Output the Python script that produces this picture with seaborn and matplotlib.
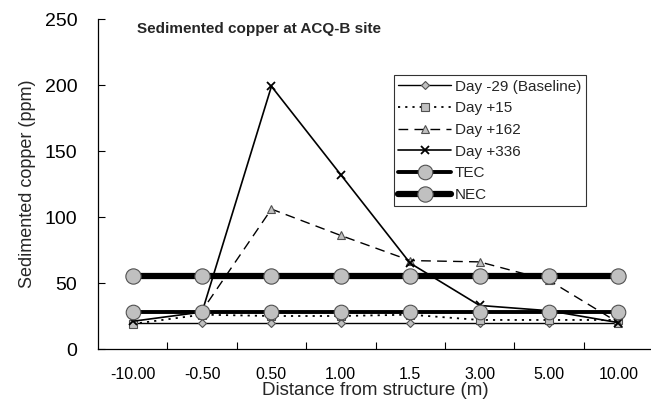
import numpy as np
import pandas as pd
import matplotlib
matplotlib.use("Agg")
import matplotlib.pyplot as plt
import seaborn as sns

# Sampling stations (distance from structure, m) and copper levels (ppm)
distances = ["-10.00", "-0.50", "0.50", "1.00", "1.5", "3.00", "5.00", "10.00"]
day_minus29 = [20, 20, 20, 20, 20, 20, 20, 20]
day_plus15 = [19, 26, 25, 25, 26, 22, 22, 22]
day_plus162 = [28, 29, 106, 86, 67, 66, 52, 20]
day_plus336 = [21, 28, 199, 132, 65, 33, 29, 20]
tec = [28, 28, 28, 28, 28, 28, 28, 28]
nec = [55, 55, 55, 55, 55, 55, 55, 55]

sns.set_theme(style="white")
plt.rcParams["font.family"] = ["Liberation Sans", "DejaVu Sans"]

pos = np.arange(len(distances))
df = pd.DataFrame({
    "pos": pos,
    "Day -29 (Baseline)": day_minus29,
    "Day +15": day_plus15,
    "Day +162": day_plus162,
    "Day +336": day_plus336,
    "TEC": tec,
    "NEC": nec,
})

fig = plt.figure(figsize=(6.51, 4.05), dpi=100)
ax = fig.add_axes([98 / 651, 1 - 349 / 405, 555 / 651, 330 / 405])

grey = "#c0c0c0"
edge = "#505050"
series_styles = {
    "Day -29 (Baseline)": dict(color="black", lw=1.0, ls="-", marker="D", ms=4,
                               mfc=grey, mec=edge, mew=0.8, zorder=3),
    "Day +15": dict(color="black", lw=1.3, ls=(0, (1.2, 2.8)), marker="s", ms=5.5,
                    mfc=grey, mec=edge, mew=0.8, zorder=3),
    "Day +162": dict(color="black", lw=1.0, ls=(0, (7, 4.5)), marker="^", ms=6,
                     mfc=grey, mec=edge, mew=0.8, zorder=3),
    "Day +336": dict(color="black", lw=1.2, ls="-", marker="x", ms=6,
                     mfc="black", mec="black", mew=1.3, zorder=3),
    "TEC": dict(color="black", lw=2.8, ls="-", marker="o", ms=10.5,
                mfc=grey, mec=edge, mew=0.8, zorder=4),
    "NEC": dict(color="black", lw=4.5, ls="-", marker="o", ms=11,
                mfc=grey, mec=edge, mew=0.8, zorder=4),
}

for name, style in series_styles.items():
    sns.lineplot(data=df, x="pos", y=name, ax=ax, label=name, sort=False,
                 estimator=None, **style)

ax.set_xlim(-0.5, len(distances) - 0.5)
ax.set_ylim(0, 250)
ax.set_yticks(np.arange(0, 251, 50))
ax.set_xticks(pos)
ax.set_xticklabels(distances)
ax.set_xticks(np.arange(0.5, len(distances) - 0.5, 1.0), minor=True)
ax.tick_params(axis="x", which="major", length=0, pad=13, labelsize=11.5,
               colors="black")
ax.tick_params(axis="x", which="minor", length=5, direction="in", width=0.8,
               color="black", bottom=True)
ax.tick_params(axis="y", which="major", length=5, direction="in", width=0.8,
               pad=15, labelsize=14, left=True, colors="black")

for side in ("top", "right"):
    ax.spines[side].set_visible(False)
for side in ("left", "bottom"):
    ax.spines[side].set_color("black")
    ax.spines[side].set_linewidth(0.9)

ax.set_xlabel("Distance from structure (m)", fontsize=13.5, labelpad=0)
ax.set_ylabel("Sedimented copper (ppm)", fontsize=13, labelpad=6)

ax.text(0.07, 0.99, "Sedimented copper at ACQ-B site", transform=ax.transAxes,
        fontsize=11, fontweight="bold", ha="left", va="top")

leg = ax.legend(loc="upper left", bbox_to_anchor=(0.533, 0.83), fontsize=11,
                frameon=True, fancybox=False, shadow=False, handlelength=3.45,
                handletextpad=0.25, labelspacing=0.5, borderpad=0.3,
                borderaxespad=0)
leg.get_frame().set_edgecolor("black")
leg.get_frame().set_linewidth(0.8)

fig.savefig("out.png", dpi=100)
